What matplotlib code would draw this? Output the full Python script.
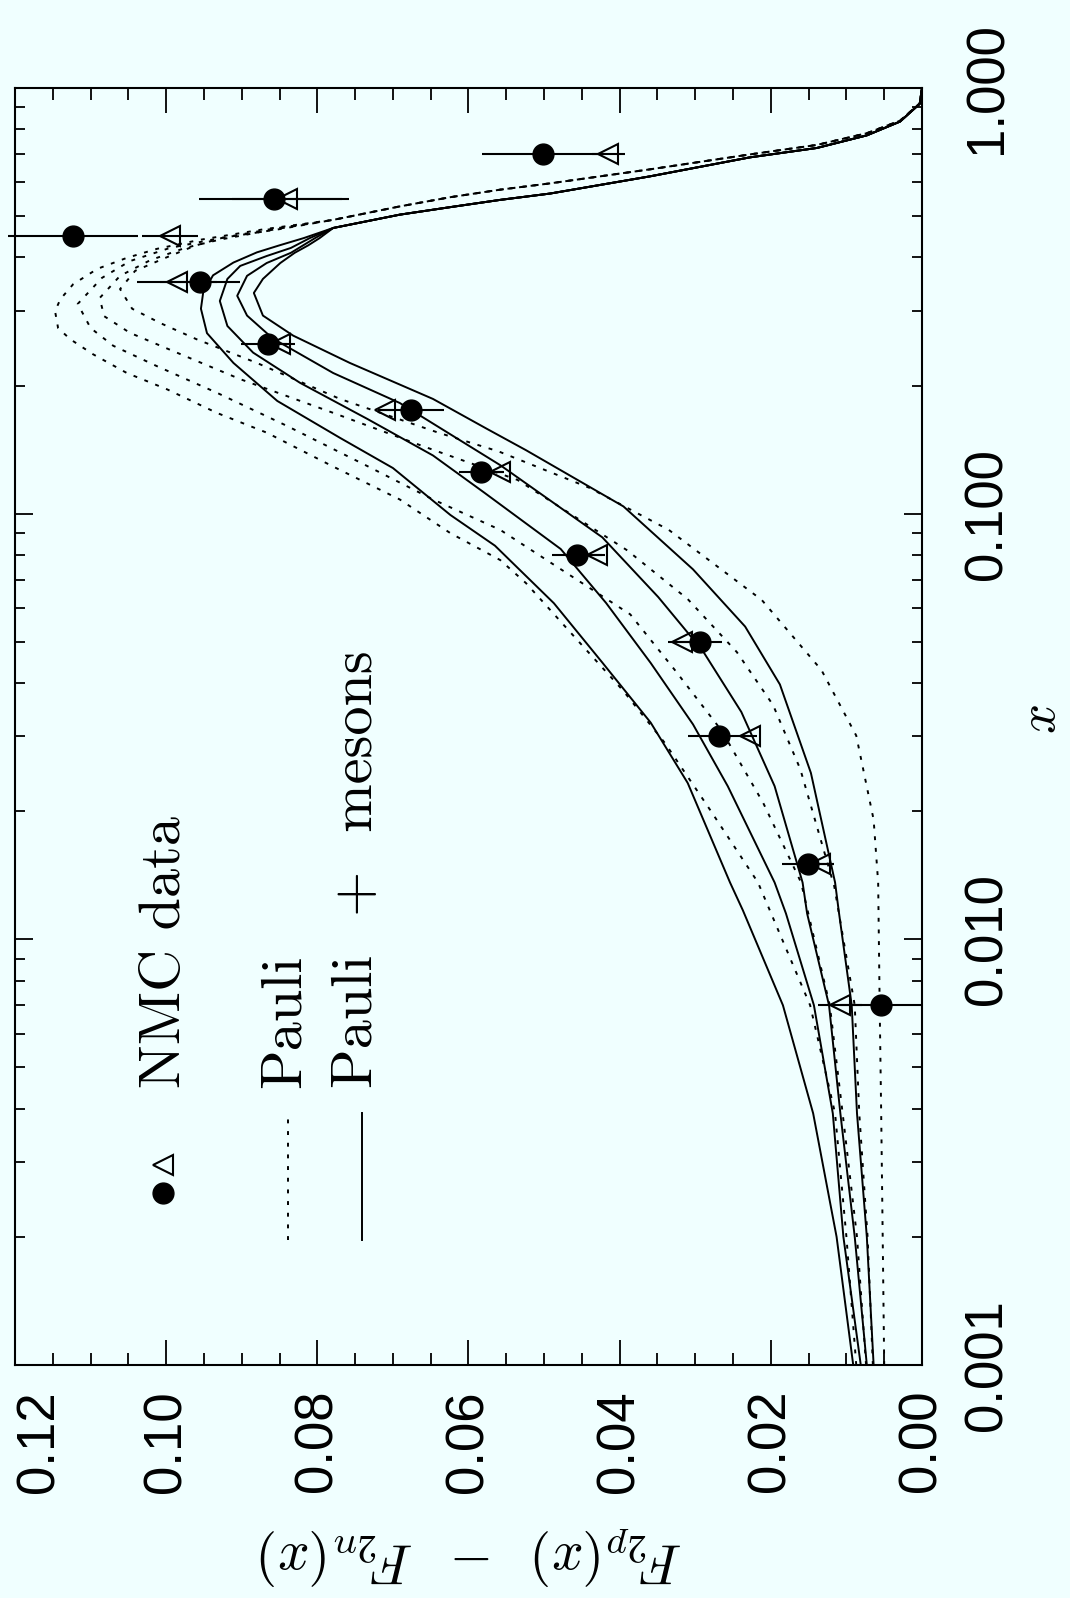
import matplotlib
matplotlib.use("Agg")
import matplotlib.pyplot as plt
import numpy as np
from matplotlib.ticker import LogLocator, NullFormatter

plt.rcParams["mathtext.fontset"] = "cm"

BG = "#f0ffff"

# NMC data points (x, F2p - F2n)
NMC_X = [0.007, 0.015, 0.03, 0.05, 0.08, 0.125, 0.175, 0.25, 0.35, 0.45, 0.55, 0.70]
CIRC_F = [0.0054, 0.0151, 0.0269, 0.0294, 0.0456, 0.0584, 0.0676, 0.0865, 0.0955, 0.1123, 0.0857, 0.0501]
CIRC_ERR = [0.0054, 0.0034, 0.0040, 0.0029, 0.0033, 0.0029, 0.0044, 0.0036, 0.0053, 0.0086, 0.0099, 0.0081]
TRI_F = [0.0108, 0.0135, 0.0228, 0.0317, 0.0430, 0.0558, 0.0710, 0.0850, 0.0986, 0.0995, 0.0840, 0.0415]
TRI_ERR = [0.0029, 0.0018, 0.0010, 0.0019, 0.0010, 0.0005, 0.0010, 0.0010, 0.0053, 0.0037, 0.0073, 0.0022]

# large-x part, where the curves of one kind run together
DOT_TAIL_X = [0.49, 0.527, 0.554, 0.577, 0.597, 0.644, 0.698, 0.735, 0.783, 0.838, 0.92, 1.0]
SOL_TAIL_X = [0.469, 0.504, 0.525, 0.546, 0.565, 0.620, 0.687, 0.723, 0.774, 0.834, 0.918, 1.0]
TAIL_F = [0.0779, 0.0691, 0.0624, 0.0558, 0.0492, 0.0360, 0.0228, 0.0139, 0.0073, 0.0029, 0.0003, 0.0]

# Pauli (dotted)
D1_X = [0.001, 0.002, 0.0039, 0.007, 0.0136, 0.0201, 0.0289, 0.0385, 0.0514, 0.0687, 0.0778, 0.09,
        0.108, 0.129, 0.155, 0.1725, 0.196, 0.214, 0.237, 0.257, 0.273, 0.299, 0.319, 0.346, 0.376,
        0.399, 0.419, 0.44, 0.466]
D1_F = [0.0087, 0.0100, 0.0115, 0.0148, 0.0217, 0.0280, 0.0340, 0.0396, 0.0460, 0.0524, 0.0558, 0.0624,
        0.0691, 0.0779, 0.0867, 0.0933, 0.0999, 0.1052, 0.1097, 0.1127, 0.1143, 0.1147, 0.1140, 0.1123,
        0.1091, 0.1052, 0.1012, 0.0955, 0.0870]
D2_X = [0.001, 0.002, 0.0039, 0.007, 0.0136, 0.0209, 0.0309, 0.0427, 0.058, 0.0916, 0.108, 0.1294,
        0.1607, 0.192, 0.222, 0.248, 0.273, 0.311, 0.358, 0.392, 0.421, 0.44, 0.466]
D2_F = [0.0074, 0.0086, 0.0105, 0.0122, 0.0160, 0.0210, 0.0265, 0.0326, 0.0386, 0.0558, 0.0647, 0.0734,
        0.0840, 0.0932, 0.1012, 0.1070, 0.1100, 0.1117, 0.1085, 0.1048, 0.0995, 0.0940, 0.0862]
D3_X = [0.001, 0.002, 0.0039, 0.007, 0.0133, 0.0251, 0.0355, 0.0473, 0.063, 0.082, 0.120, 0.144,
        0.1725, 0.207, 0.239, 0.266, 0.291, 0.321, 0.362, 0.394, 0.421, 0.44, 0.466]
D3_F = [0.0065, 0.0072, 0.0083, 0.0089, 0.0116, 0.0161, 0.0197, 0.0245, 0.0310, 0.0390, 0.0535, 0.0660,
        0.0779, 0.0902, 0.0986, 0.1048, 0.1082, 0.1088, 0.1061, 0.1021, 0.0975, 0.0930, 0.0855]
D4_X = [0.001, 0.002, 0.0039, 0.007, 0.0136, 0.0191, 0.0301, 0.0429, 0.0627, 0.0916, 0.115, 0.140,
        0.155, 0.186, 0.226, 0.257, 0.2805, 0.303, 0.337, 0.372, 0.399, 0.426, 0.445, 0.466]
D4_F = [0.0050, 0.0052, 0.0054, 0.0056, 0.0058, 0.0064, 0.0087, 0.0133, 0.0212, 0.0335, 0.0440, 0.0560,
        0.0640, 0.0770, 0.0880, 0.0960, 0.1008, 0.1045, 0.1061, 0.1041, 0.1001, 0.0962, 0.0925, 0.0850]

# Pauli + mesons (solid)
S1_X = [0.001, 0.002, 0.0039, 0.007, 0.0117, 0.0136, 0.0233, 0.0323, 0.0447, 0.0616, 0.0841, 0.0993,
        0.128, 0.1507, 0.184, 0.226, 0.2655, 0.303, 0.331, 0.363, 0.389, 0.411, 0.427, 0.444]
S1_F = [0.0091, 0.0113, 0.0144, 0.0184, 0.0237, 0.0254, 0.0310, 0.0359, 0.0423, 0.0487, 0.0565, 0.0624,
        0.0700, 0.0770, 0.0853, 0.0911, 0.0946, 0.0954, 0.0951, 0.0938, 0.0911, 0.0880, 0.0850, 0.0818]
S2_X = [0.001, 0.002, 0.0039, 0.007, 0.0115, 0.0136, 0.0229, 0.032, 0.0446, 0.0617, 0.0826, 0.112,
        0.137, 0.167, 0.203, 0.239, 0.276, 0.316, 0.356, 0.382, 0.403, 0.421, 0.444]
S2_F = [0.0081, 0.0104, 0.0118, 0.0143, 0.0180, 0.0195, 0.0257, 0.0303, 0.0359, 0.0418, 0.0478, 0.0579,
        0.0647, 0.0734, 0.0823, 0.0885, 0.0919, 0.0929, 0.0919, 0.0902, 0.0867, 0.0835, 0.0810]
S3_X = [0.001, 0.002, 0.0039, 0.007, 0.0115, 0.0136, 0.0229, 0.0342, 0.0476, 0.0637, 0.088, 0.13,
        0.182, 0.214, 0.258, 0.292, 0.325, 0.362, 0.388, 0.410, 0.444]
S3_F = [0.0073, 0.0089, 0.0108, 0.0123, 0.0152, 0.0158, 0.0195, 0.0239, 0.0290, 0.0349, 0.0423, 0.0558,
        0.0691, 0.0779, 0.0859, 0.0893, 0.0906, 0.0893, 0.0867, 0.0835, 0.0803]
S4_X = [0.001, 0.002, 0.0039, 0.007, 0.0116, 0.0136, 0.0246, 0.0397, 0.0543, 0.074, 0.104, 0.141,
        0.158, 0.186, 0.226, 0.262, 0.292, 0.330, 0.356, 0.388, 0.410, 0.427, 0.444]
S4_F = [0.0064, 0.0073, 0.0086, 0.0093, 0.0110, 0.0115, 0.0147, 0.0188, 0.0234, 0.0303, 0.0395, 0.0524,
        0.0575, 0.0647, 0.0757, 0.0832, 0.0872, 0.0884, 0.0872, 0.0849, 0.0830, 0.0812, 0.0797]

F_TICKS = [0.0, 0.02, 0.04, 0.06, 0.08, 0.10, 0.12]
F_TICK_LABELS = ["0.00", "0.02", "0.04", "0.06", "0.08", "0.10", "0.12"]
X_TICKS = [0.001, 0.01, 0.1, 1.0]
X_TICK_LABELS = ["0.001", "0.010", "0.100", "1.000"]

DOTTED = (0, (2, 4))

# the page is turned a quarter: F runs along the bottom, x up the right side
fig = plt.figure(figsize=(10.70, 15.98), dpi=100, facecolor=BG)
ax = fig.add_axes([15 / 1070, 1 - 1365 / 1598, 907 / 1070, 1277 / 1598])
ax.set_facecolor(BG)
ax.set_yscale("log")
ax.set_xlim(0.12, 0.0)
ax.set_ylim(0.001, 1.0)

for xs, fs in [(D1_X, D1_F), (D2_X, D2_F), (D3_X, D3_F), (D4_X, D4_F)]:
    ax.plot(fs + TAIL_F, xs + DOT_TAIL_X, color="k", lw=1.4, ls=DOTTED)
for xs, fs in [(S1_X, S1_F), (S2_X, S2_F), (S3_X, S3_F), (S4_X, S4_F)]:
    ax.plot(fs + TAIL_F, xs + SOL_TAIL_X, color="k", lw=1.4)

ax.errorbar(TRI_F, NMC_X, xerr=TRI_ERR, fmt="<", ms=15, mfc="none", mec="k", mew=1.5,
            ecolor="k", elinewidth=1.5, capsize=0, clip_on=False, zorder=4)
ax.errorbar(CIRC_F, NMC_X, xerr=CIRC_ERR, fmt="o", ms=15, mfc="k", mec="k",
            ecolor="k", elinewidth=1.5, capsize=0, clip_on=False, zorder=5)

# ticks
ax.set_xticks(F_TICKS)
ax.set_xticklabels(F_TICK_LABELS, rotation=90, family="Liberation Sans", fontsize=38)
ax.get_xticklabels()[-1].set_ha("left")   # keep 0.12 inside the page
ax.set_xticks(np.arange(0, 0.1201, 0.005), minor=True)
ax.set_yticks(X_TICKS)
ax.set_yticklabels(X_TICK_LABELS, rotation=90, va="center", family="Liberation Sans", fontsize=38)
ax.yaxis.set_minor_locator(LogLocator(base=10, subs=np.arange(2, 10)))
ax.yaxis.set_minor_formatter(NullFormatter())
ax.tick_params(axis="x", which="both", direction="in", top=True, bottom=True, pad=18, width=1.3)
ax.tick_params(axis="x", which="major", length=18)
ax.tick_params(axis="x", which="minor", length=8.5)
ax.tick_params(axis="y", which="both", direction="in", left=True, right=True,
               labelleft=False, labelright=True, pad=29, width=1.3)
ax.tick_params(axis="y", which="major", length=13)
ax.tick_params(axis="y", which="minor", length=7)
for s in ax.spines.values():
    s.set_linewidth(1.5)

# axis titles
fig.text(471 / 1070, 1 - 1556 / 1598, r"$F_{2p}(x)\;\;-\;\;F_{2n}(x)$", fontsize=40,
         rotation=180, ha="center", va="center")
fig.text(1040 / 1070, 1 - 719 / 1598, r"$x$", fontsize=38, rotation=90, ha="center", va="center")

# legend, drawn by hand
ax.plot([0.1632], [0.1347], "o", ms=15, color="k", transform=ax.transAxes, clip_on=False)
ax.plot([0.1632], [0.1566], "<", ms=15, mfc="none", mec="k", mew=1.5, transform=ax.transAxes,
        clip_on=False)
ax.plot([0.301, 0.301], [0.098, 0.194], color="k", lw=1.4, ls=DOTTED, transform=ax.transAxes)
ax.plot([0.3826, 0.3826], [0.098, 0.197], color="k", lw=1.4, transform=ax.transAxes)
leg_font = dict(family="cmr10", fontsize=42, rotation=90, rotation_mode="anchor",
                ha="left", va="baseline", transform=ax.transAxes)
ax.text(0.1819, 0.217, "NMC data", **leg_font)
ax.text(0.3142, 0.217, "Pauli", **leg_font)
ax.text(0.3936, 0.217, "Pauli  +  mesons", **leg_font)

fig.savefig("out.png", dpi=100, facecolor=BG)
